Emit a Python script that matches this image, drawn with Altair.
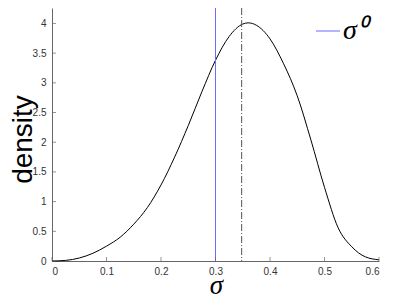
import altair as alt
import pandas as pd

# Density curve
sigma = [0.0, 0.025, 0.05, 0.075, 0.1, 0.125, 0.15, 0.175, 0.2, 0.225, 0.25,
         0.275, 0.3, 0.325, 0.35, 0.36, 0.375, 0.4, 0.425, 0.45, 0.475, 0.5,
         0.525, 0.55, 0.575, 0.6]
density = [0.0, 0.01, 0.05, 0.13, 0.25, 0.40, 0.62, 0.90, 1.28, 1.75, 2.28,
           2.85, 3.38, 3.78, 3.99, 4.01, 3.97, 3.74, 3.32, 2.78, 2.04, 1.24,
           0.56, 0.24, 0.07, 0.02]

true_sigma = [0.3]
true_label = ["σ⁰"]
estimate_sigma = [0.348]

x_ticks = [0, 0.1, 0.2, 0.3, 0.4, 0.5, 0.6]
y_ticks = [0, 0.5, 1, 1.5, 2, 2.5, 3, 3.5, 4]

curve_df = pd.DataFrame({"sigma": sigma, "density": density})
true_df = pd.DataFrame({"sigma": true_sigma, "label": true_label})
est_df = pd.DataFrame({"sigma": estimate_sigma})
xt_df = pd.DataFrame({"sigma": x_ticks})
yt_df = pd.DataFrame({"density": y_ticks})

W, H = 327, 253
xscale = alt.Scale(domain=[0, 0.6], nice=False, zero=False)
yscale = alt.Scale(domain=[0, 4.26], nice=False)

x_axis = alt.Axis(values=x_ticks, format="~g", tickSize=0, labelPadding=5,
                  grid=False, domainColor="#666", labelColor="#333",
                  labelFont="Liberation Sans", labelFontSize=10,
                  title="σ", titleFont="Liberation Serif", titleFontStyle="italic",
                  titleFontSize=27, titleFontWeight="normal", titleColor="black",
                  titleX=164, titleY=32, titleBaseline="alphabetic")
y_axis = alt.Axis(values=y_ticks, format="~g", tickSize=0, labelPadding=6,
                  grid=False, domainColor="#666", labelColor="#333",
                  labelFont="Liberation Sans", labelFontSize=10,
                  title="density", titleFont="Liberation Sans",
                  titleFontSize=28, titleFontWeight="normal", titleColor="black",
                  titleAngle=-90, titleX=-21, titleY=131,
                  titleBaseline="alphabetic", titleAlign="center")

X = alt.X("sigma:Q", scale=xscale, axis=x_axis)
Y = alt.Y("density:Q", scale=yscale, axis=y_axis)

curve = alt.Chart(curve_df).mark_line(color="black", strokeWidth=1,
                                      interpolate="monotone").encode(x=X, y=Y)

true_rule = alt.Chart(true_df).mark_rule(strokeWidth=1).encode(
    x=X,
    color=alt.Color("label:N", scale=alt.Scale(range=["#6b6bff"]),
                    legend=alt.Legend(orient="none", legendX=262, legendY=9,
                                      title=None, symbolType="stroke",
                                      symbolSize=576, symbolStrokeWidth=1,
                                      labelFont="Liberation Serif",
                                      labelFontStyle="italic",
                                      labelFontSize=28, labelColor="black",
                                      labelOffset=1, padding=0)),
)

est_rule = alt.Chart(est_df).mark_rule(color="#555", strokeWidth=1,
                                       strokeDash=[7, 2, 1, 2]).encode(x=X)

xt = alt.Chart(xt_df).mark_tick(color="#666", thickness=1, size=4).encode(
    x=X, y=alt.value(H - 2))
yt = alt.Chart(yt_df).mark_tick(color="#666", thickness=1, size=4).encode(
    y=Y, x=alt.value(2))

chart = alt.layer(curve, true_rule, est_rule, xt, yt).properties(
    width=W, height=H,
    autosize=alt.AutoSizeParams(type="none"),
    padding={"left": 44, "top": 0, "right": 8, "bottom": 38},
).configure_view(stroke=None)

chart.save("out.html", embed_options={"renderer": "svg", "actions": False})
